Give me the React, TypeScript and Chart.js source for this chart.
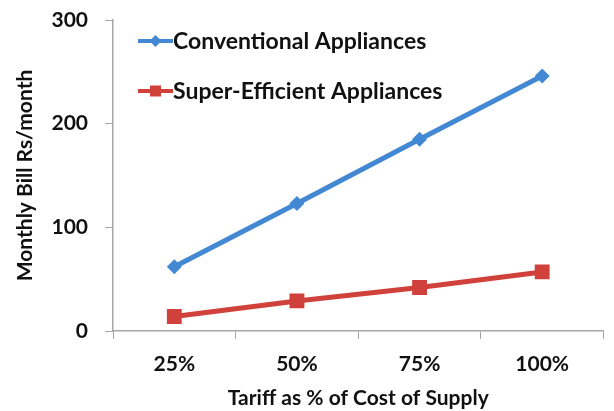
import React, { useEffect, useRef } from "react";
import { Chart, registerables } from "chart.js";

Chart.register(...registerables);

const categories = ["25%", "50%", "75%", "100%"];
const conventional = [62, 123, 185, 246];
const superEfficient = [14, 29, 42, 57];
const seriesNames = ["Conventional Appliances", "Super-Efficient Appliances"];
const yMin = 0;
const yMax = 300;
const yStep = 100;

const BLUE = "#4388D3";
const RED = "#D0413B";
const AXIS = "#A6A6A6";
const FONT = "Lato, 'Open Sans', sans-serif";

function drawMarker(ctx: CanvasRenderingContext2D, style: string, x: number, y: number, r: number, color: string) {
  ctx.save();
  ctx.fillStyle = color;
  ctx.beginPath();
  if (style === "rectRot") {
    ctx.moveTo(x, y - r);
    ctx.lineTo(x + r, y);
    ctx.lineTo(x, y + r);
    ctx.lineTo(x - r, y);
    ctx.closePath();
  } else {
    ctx.rect(x - r, y - r, r * 2, r * 2);
  }
  ctx.fill();
  ctx.restore();
}

// Legend drawn inside the plot area, stacked vertically with line + marker swatches
const insideLegend = {
  id: "insideLegend",
  afterDraw(chart: any) {
    const { ctx, chartArea } = chart;
    const rows = [
      { y: chartArea.top + 21, color: BLUE, style: "rectRot", r: 6 },
      { y: chartArea.top + 71, color: RED, style: "rect", r: 5.5 },
    ];
    rows.forEach((row, i) => {
      const x0 = chartArea.left + 25;
      const x1 = chartArea.left + 60;
      ctx.save();
      ctx.strokeStyle = row.color;
      ctx.lineWidth = 4;
      ctx.beginPath();
      ctx.moveTo(x0, row.y);
      ctx.lineTo(x1, row.y);
      ctx.stroke();
      ctx.restore();
      drawMarker(ctx, row.style, (x0 + x1) / 2, row.y, row.r, row.color);
      ctx.save();
      ctx.fillStyle = "#111";
      ctx.font = `bold 23px ${FONT}`;
      ctx.textBaseline = "middle";
      ctx.textAlign = "left";
      ctx.fillText(seriesNames[i], x1, row.y + 1);
      ctx.restore();
    });
  },
};

const whiteBg = {
  id: "whiteBg",
  beforeDraw(chart: any) {
    const { ctx, width, height } = chart;
    ctx.save();
    ctx.fillStyle = "#fff";
    ctx.fillRect(0, 0, width, height);
    ctx.restore();
  },
};

export default function App() {
  const ref = useRef<HTMLCanvasElement | null>(null);

  useEffect(() => {
    if (!ref.current) return;
    const chart = new Chart(ref.current, {
      type: "line",
      data: {
        labels: categories,
        datasets: [
          {
            label: seriesNames[0],
            data: conventional,
            borderColor: BLUE,
            backgroundColor: BLUE,
            borderWidth: 5,
            pointStyle: "rectRot",
            pointRadius: 7.5,
            pointBorderWidth: 0,
            tension: 0,
          },
          {
            label: seriesNames[1],
            data: superEfficient,
            borderColor: RED,
            backgroundColor: RED,
            borderWidth: 5,
            pointStyle: "rect",
            pointRadius: 10.5,
            pointBorderWidth: 0,
            tension: 0,
          },
        ],
      },
      options: {
        responsive: false,
        animation: false,
        layout: { padding: { top: 20, right: 2, left: 0, bottom: 0 } },
        plugins: {
          legend: { display: false },
          tooltip: { enabled: false },
        },
        scales: {
          x: {
            offset: true,
            grid: {
              offset: true,
              drawOnChartArea: false,
              drawTicks: true,
              tickLength: 8,
              color: AXIS,
            },
            border: { color: AXIS, width: 1.5 },
            ticks: {
              color: "#111",
              padding: 13,
              font: { family: FONT, size: 21, weight: "bold" },
            },
            title: {
              display: true,
              text: "Tariff as % of Cost of Supply",
              color: "#111",
              padding: { top: 4, bottom: 0 },
              font: { family: FONT, size: 21, weight: "bold" },
            },
            afterFit(scale: any) {
              scale.height = 80;
              scale.paddingLeft = 0;
              scale.paddingRight = 0;
            },
          },
          y: {
            min: yMin,
            max: yMax,
            grid: {
              drawOnChartArea: false,
              drawTicks: true,
              tickLength: 8,
              color: AXIS,
            },
            border: { color: AXIS, width: 1.5 },
            ticks: {
              stepSize: yStep,
              color: "#111",
              padding: 17,
              font: { family: FONT, size: 21, weight: "bold" },
            },
            title: {
              display: true,
              text: "Monthly Bill Rs/month",
              color: "#111",
              padding: { top: 13, bottom: 0 },
              font: { family: FONT, size: 21, weight: "bold" },
            },
            afterFit(scale: any) {
              scale.width = 113;
              scale.paddingTop = 0;
              scale.paddingBottom = 0;
            },
          },
        },
      },
      plugins: [whiteBg, insideLegend],
    } as any);
    return () => chart.destroy();
  }, []);

  return (
    <div style={{ position: "fixed", left: 0, top: 0, width: 614, height: 411, background: "#fff" }}>
      <canvas ref={ref} width={614} height={411} />
    </div>
  );
}
